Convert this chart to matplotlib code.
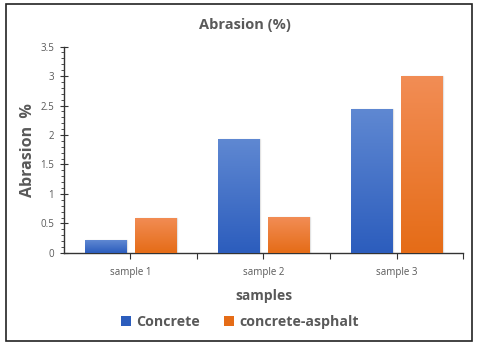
import matplotlib

matplotlib.use("Agg")
import matplotlib.pyplot as plt
import numpy as np
from matplotlib.colors import LinearSegmentedColormap
from matplotlib.patches import Rectangle
from matplotlib.ticker import MultipleLocator

samples = ["sample 1", "sample 2", "sample 3"]
concrete = [0.22, 1.93, 2.44]
concrete_asphalt = [0.60, 0.61, 3.00]
series_names = ["Concrete", "concrete-asphalt"]

TEXT = "#595959"
BLUE = ("#5f88d2", "#2c5dbd")
ORANGE = ("#f28d55", "#e56c17")

plt.rcParams["font.family"] = ["Open Sans", "DejaVu Sans"]

fig = plt.figure(figsize=(4.8, 3.46), dpi=100)
ax = fig.add_axes([0.1333, 0.2688, 0.8313, 0.5968])

x = np.arange(len(samples))
width = 0.31
offset = 0.19
grad = np.linspace(1, 0, 256).reshape(-1, 1)


def gradient_bars(xpos, vals, cols, label):
    bars = ax.bar(xpos, vals, width, color=cols[1], label=label, zorder=2)
    cmap = LinearSegmentedColormap.from_list("g", [cols[1], cols[0]])
    for b in bars:
        x0, y0 = b.get_x(), b.get_y()
        im = ax.imshow(grad, cmap=cmap, aspect="auto", zorder=3,
                       extent=[x0, x0 + b.get_width(), y0, y0 + b.get_height()])
        im.set_clip_path(b)
        # faint shadow
        ax.add_patch(Rectangle((x0 + 0.008, y0), b.get_width(), b.get_height(),
                               color="#d0d0d0", alpha=0.45, zorder=1))
    return bars


gradient_bars(x - offset, concrete, BLUE, series_names[0])
gradient_bars(x + offset, concrete_asphalt, ORANGE, series_names[1])

ax.set_xlim(-0.5, 2.5)
ax.set_ylim(0, 3.5)
ax.set_xticks(x)
ax.set_xticklabels(samples)
ax.set_xticks([0.5, 1.5, 2.5], minor=True)
ax.tick_params(axis="x", which="both", direction="out", length=4, width=0.8,
               labelsize=7, colors="#333333", pad=6)
ax.tick_params(axis="x", labelcolor=TEXT)
ax.yaxis.set_minor_locator(MultipleLocator(0.1))
ax.set_yticks(np.arange(0, 3.51, 0.5))
ax.set_yticklabels(["0", "0.5", "1", "1.5", "2", "2.5", "3", "3.5"])
ax.tick_params(axis="y", which="major", direction="inout", length=6, width=0.8,
               labelsize=7, colors="#333333", pad=4)
ax.tick_params(axis="y", which="minor", direction="out", length=2, width=0.6,
               colors="#333333")
ax.tick_params(axis="y", labelcolor=TEXT)

for s in ("top", "right"):
    ax.spines[s].set_visible(False)
for s in ("left", "bottom"):
    ax.spines[s].set_color("#333333")
    ax.spines[s].set_linewidth(1.0)

ax.set_xlabel("samples", fontsize=10, fontweight="bold", color=TEXT, labelpad=8)
ax.set_ylabel("Abrasion  %", fontsize=11.5, fontweight="bold", color=TEXT, labelpad=3)
fig.text(0.51, 0.928, "Abrasion (%)", ha="center", va="center",
         fontsize=10.5, fontweight="bold", color=TEXT)

leg = fig.legend(loc="center", bbox_to_anchor=(0.5, 0.07), ncol=2, frameon=False,
                 handlelength=0.7, handleheight=0.7, handletextpad=0.4,
                 columnspacing=1.7, prop={"size": 10.2, "weight": "bold"})
for t in leg.get_texts():
    t.set_color(TEXT)

fig.patches.append(Rectangle((0.012, 0.014), 0.972, 0.975, transform=fig.transFigure,
                             fill=False, edgecolor="#222222", linewidth=1.2))

fig.savefig("out.png", dpi=100)
